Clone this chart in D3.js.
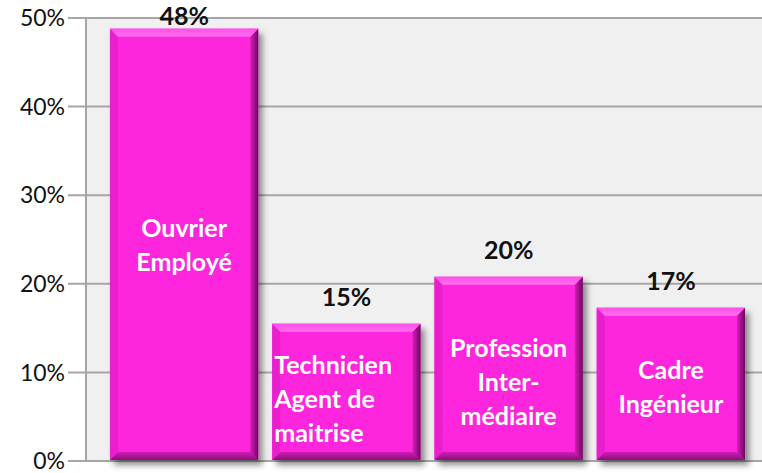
<!DOCTYPE html>
<html>
<head>
<meta charset="utf-8">
<script src="https://cdn.jsdelivr.net/npm/d3@7"></script>
<style>
  body { margin: 0; background: #fff; }
  svg { display: block; font-family: Lato, "Open Sans", sans-serif; }
</style>
</head>
<body>
<svg id="chart" width="762" height="473"></svg>
<script>
// categories (line broken as in the picture), values in %, y ticks
var categories = [
  ["Ouvrier", "Employé"],
  ["Technicien", "Agent de", "maitrise"],
  ["Profession", "Inter-", "médiaire"],
  ["Cadre", "Ingénieur"]
];
var values = [48.8, 15.5, 20.8, 17.3];
var shownLabels = ["48%", "15%", "20%", "17%"];
var yTicks = [0, 10, 20, 30, 40, 50];

var svg = d3.select("#chart");
var plot = {left: 86, right: 762, top: 18, bottom: 461};

var x = d3.scaleBand()
  .domain(d3.range(values.length))
  .range([103, 752])
  .paddingInner(0.086)
  .paddingOuter(0.043);

var y = d3.scaleLinear().domain([0, 50]).range([plot.bottom, plot.top]);

// shadow + bevel gradients
var defs = svg.append("defs");
var f = defs.append("filter").attr("id", "shadow")
  .attr("x", "-10%").attr("y", "-10%").attr("width", "130%").attr("height", "130%");
f.append("feDropShadow").attr("dx", 4).attr("dy", 5).attr("stdDeviation", 3)
  .attr("flood-color", "#000").attr("flood-opacity", 0.45);

var gTop = defs.append("linearGradient").attr("id", "gTop").attr("x1", 0).attr("y1", 0).attr("x2", 0).attr("y2", 1);
gTop.append("stop").attr("offset", "0%").attr("stop-color", "#ff4fe8");
gTop.append("stop").attr("offset", "100%").attr("stop-color", "#ff6ff0");
var gRight = defs.append("linearGradient").attr("id", "gRight").attr("x1", 0).attr("y1", 0).attr("x2", 1).attr("y2", 0);
gRight.append("stop").attr("offset", "0%").attr("stop-color", "#d61cbb");
gRight.append("stop").attr("offset", "100%").attr("stop-color", "#6a0a5c");
var gBot = defs.append("linearGradient").attr("id", "gBot").attr("x1", 0).attr("y1", 0).attr("x2", 0).attr("y2", 1);
gBot.append("stop").attr("offset", "0%").attr("stop-color", "#d01cb6");
gBot.append("stop").attr("offset", "100%").attr("stop-color", "#8c0e7a");

// plot background
svg.append("rect")
  .attr("x", plot.left).attr("y", plot.top)
  .attr("width", plot.right - plot.left).attr("height", plot.bottom - plot.top)
  .attr("fill", "#f0f0f0");

// gridlines + ticks
var grid = svg.append("g");
grid.selectAll("line").data(yTicks).enter().append("line")
  .attr("x1", 68).attr("x2", plot.right)
  .attr("y1", function (d) { return y(d); })
  .attr("y2", function (d) { return y(d); })
  .attr("stroke", "#a6a6a6").attr("stroke-width", 2);

grid.selectAll("text").data(yTicks).enter().append("text")
  .attr("x", 65)
  .attr("y", function (d) { return y(d); })
  .attr("dy", "0.36em")
  .attr("text-anchor", "end")
  .attr("font-size", 23)
  .attr("fill", "#111")
  .text(function (d) { return d + "%"; });

svg.append("line")
  .attr("x1", plot.left).attr("x2", plot.left)
  .attr("y1", plot.top).attr("y2", plot.bottom + 1)
  .attr("stroke", "#a6a6a6").attr("stroke-width", 2);

// bars
var b = 8;
var bars = svg.append("g").selectAll("g.bar")
  .data(values).enter().append("g").attr("class", "bar");

bars.each(function (v, i) {
  var g = d3.select(this);
  var x0 = x(i), x1 = x(i) + x.bandwidth(), y0 = y(v), y1 = plot.bottom - 1;
  g.append("rect")
    .attr("x", x0).attr("y", y0).attr("width", x1 - x0).attr("height", y1 - y0)
    .attr("fill", "#fd26dc").attr("filter", "url(#shadow)");
  var poly = function (pts, fill) {
    g.append("polygon").attr("points", pts.map(function (p) { return p.join(","); }).join(" ")).attr("fill", fill);
  };
  poly([[x0, y0], [x0 + b, y0 + b], [x0 + b, y1 - b], [x0, y1]], "#e81fca");
  poly([[x0, y1], [x1, y1], [x1 - b, y1 - b], [x0 + b, y1 - b]], "url(#gBot)");
  poly([[x1, y0], [x1, y1], [x1 - b, y1 - b], [x1 - b, y0 + b]], "url(#gRight)");
  poly([[x0, y0], [x1, y0], [x1 - b, y0 + b], [x0 + b, y0 + b]], "url(#gTop)");
});

// value labels
svg.append("g").selectAll("text")
  .data(values).enter().append("text")
  .attr("x", function (d, i) { return x(i) + x.bandwidth() / 2; })
  .attr("y", function (d) { return Math.max(y(d) - 18, 25); })
  .attr("text-anchor", "middle")
  .attr("font-size", 25).attr("font-weight", "bold").attr("fill", "#111")
  .text(function (d, i) { return shownLabels[i]; });

// category names inside bars
var nameTop = [228, 365, 348, 370];
var lineH = 34;
function nameX(i) { return i === 1 ? x(i) + 2 : x(i) + x.bandwidth() / 2; }
svg.append("g").selectAll("text")
  .data(categories).enter().append("text")
  .attr("text-anchor", function (d, i) { return i === 1 ? "start" : "middle"; })
  .attr("font-size", 25).attr("font-weight", "bold").attr("fill", "#fff")
  .each(function (lines, i) {
    var t = d3.select(this);
    lines.forEach(function (s, k) {
      t.append("tspan")
        .attr("x", nameX(i))
        .attr("y", nameTop[i] + k * lineH)
        .attr("dy", "0.36em")
        .text(s);
    });
  });
</script>
</body>
</html>
